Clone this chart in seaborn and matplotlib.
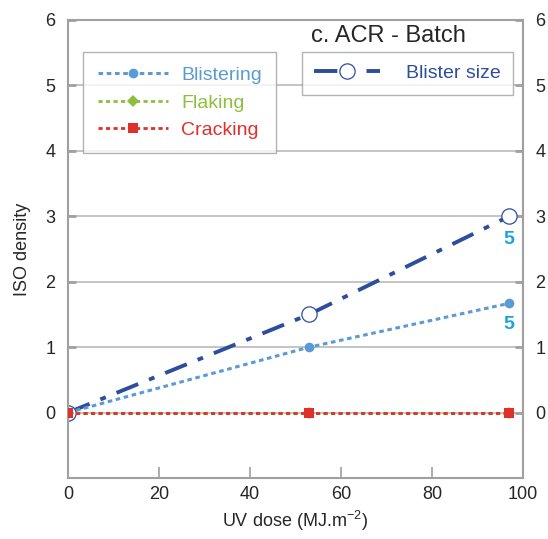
import matplotlib
matplotlib.use("Agg")
import matplotlib.pyplot as plt
import seaborn as sns
import numpy as np
import pandas as pd

# data
uv_dose = [0, 53, 97]
blistering = [0, 1, 1.67]
flaking = [0, 0, 0]
cracking = [0, 0, 0]
blister_size = [0, 1.5, 3]
size_notes = ['5', '5']
note_y = [2.65, 1.35]

sns.set_theme(style='white')
plt.rcParams['font.family'] = ['Liberation Sans', 'DejaVu Sans']
plt.rcParams['font.size'] = 13
plt.rcParams['mathtext.default'] = 'regular'

c_blister = '#5a9bd3'
c_flake = '#8dbf3c'
c_crack = '#e0302a'
c_size = '#2d4e9b'
c_note = '#1aa3dc'

fig = plt.figure(figsize=(5.48, 5.39), dpi=100)
ax = fig.add_axes([0.124, 0.113, 0.830, 0.850])

df = pd.DataFrame({'x': uv_dose, 'Blistering': blistering, 'Flaking': flaking,
                   'Cracking': cracking, 'Blister size': blister_size})

sns.lineplot(data=df, x='x', y='Blister size', ax=ax, color=c_size, lw=2.8,
             linestyle=(0, (6, 3, 1.5, 3)), marker='o', markersize=11,
             markerfacecolor='white', markeredgecolor=c_size, markeredgewidth=0.9,
             label='Blister size', zorder=2)
sns.lineplot(data=df, x='x', y='Blistering', ax=ax, color=c_blister, lw=2.2,
             linestyle=(0, (1.5, 1.2)), marker='o', markersize=7,
             markeredgewidth=0, label='Blistering', zorder=3)
sns.lineplot(data=df, x='x', y='Flaking', ax=ax, color=c_flake, lw=2.0,
             linestyle=(0, (1.5, 1.2)), marker='D', markersize=6,
             markeredgewidth=0, label='Flaking', zorder=3)
sns.lineplot(data=df, x='x', y='Cracking', ax=ax, color=c_crack, lw=2.0,
             linestyle=(0, (1.5, 1.2)), marker='s', markersize=7,
             markeredgewidth=0, label='Cracking', zorder=4)

for yv, t in zip(note_y, size_notes):
    ax.text(97, yv, t, color=c_note, fontsize=14, fontweight='bold',
            ha='center', va='center')

ax.set_xlim(0, 100)
ax.set_ylim(-1, 6)
ax.set_xticks([0, 20, 40, 60, 80, 100])
ax.set_yticks([0, 1, 2, 3, 4, 5, 6])
ax.yaxis.grid(True, color='#b4b4b4', lw=1.1)
ax.set_axisbelow(True)
for s in ax.spines.values():
    s.set_color('#a0a0a0')
    s.set_linewidth(1.5)
ax.tick_params(axis='x', direction='in', length=8, width=1.2, color='#a0a0a0',
               labelsize=13, pad=6, bottom=True)
ax.tick_params(axis='y', direction='in', length=6, width=2, color='#a0a0a0',
               labelsize=13, left=True, right=True, labelright=True, pad=9)
ax.set_xlabel('UV dose (MJ.m$^{-2}$)', fontsize=13, labelpad=4)
ax.set_ylabel('ISO density', fontsize=13, labelpad=10)

ax.text(0.535, 0.965, 'c. ACR - Batch', transform=ax.transAxes, fontsize=17,
        ha='left', va='center')

h, l = ax.get_legend_handles_labels()
hd = dict(zip(l, h))
leg1 = ax.legend([hd['Blistering'], hd['Flaking'], hd['Cracking']],
                 ['Blistering', 'Flaking', 'Cracking'], loc='upper left',
                 bbox_to_anchor=(0.033, 0.930), fontsize=14, frameon=True,
                 fancybox=False, edgecolor='#a0a0a0', handlelength=3.6,
                 labelspacing=0.5, borderpad=0.75, handletextpad=0.7,
                 borderaxespad=0)
for txt, c in zip(leg1.get_texts(), [c_blister, c_flake, c_crack]):
    txt.set_color(c)
ax.add_artist(leg1)
leg2 = ax.legend([hd['Blister size']], ['Blister size'], loc='upper left',
                 bbox_to_anchor=(0.514, 0.930), fontsize=14, frameon=True,
                 fancybox=False, edgecolor='#a0a0a0', handlelength=3.4,
                 borderpad=0.65, handletextpad=1.3, borderaxespad=0)
leg2.get_texts()[0].set_color(c_size)

fig.savefig('out.png', dpi=100)
